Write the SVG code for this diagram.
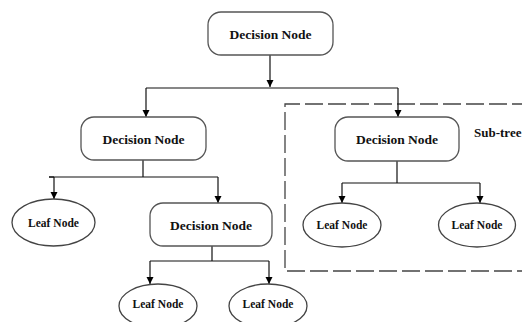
<svg xmlns="http://www.w3.org/2000/svg" width="522" height="322" viewBox="0 0 522 322">
<defs>
<marker id="ah" viewBox="0 0 10 10" refX="10" refY="5" markerWidth="7" markerHeight="9" markerUnits="userSpaceOnUse" orient="auto">
<path d="M0,0 L10,5 L0,10 z" fill="#000"/>
</marker>
<style>
.dn{fill:#fff;stroke:#555;stroke-width:1.3}
.lf{fill:#fff;stroke:#444;stroke-width:1.3}
.t{font-family:"Liberation Serif","Times New Roman",serif;font-weight:bold;fill:#111;text-anchor:middle}
.td{font-size:13.5px}
.tl{font-size:11.5px}
.c{fill:none;stroke:#111;stroke-width:1.2}
.a{marker-end:url(#ah)}
</style>
</defs>
<rect width="522" height="322" fill="#fff"/>
<g id="subtree">
<path d="M530,104 H285 V271 H530" fill="none" stroke="#444" stroke-width="1.3" stroke-dasharray="18 5"/>
<text class="t" x="474" y="137" font-size="13px" style="text-anchor:start">Sub-tree</text>
</g>
<g id="connectors">
<path class="c a" d="M270,55 V87"/>
<path class="c" d="M146,88 H398"/>
<path class="c a" d="M146,88 V117"/>
<path class="c a" d="M398,88 V117"/>
<path class="c" d="M143,160 V177 M49,177 H218"/>
<path class="c a" d="M54,177 V199"/>
<path class="c" d="M49,177 H54"/>
<path class="c a" d="M218,177 V203"/>
<path class="c" d="M212,246 V261 M150,261 H269"/>
<path class="c a" d="M150,261 V284"/>
<path class="c a" d="M269,261 V284"/>
<path class="c" d="M397,161 V183 M342,183 H480"/>
<path class="c a" d="M342,183 V203"/>
<path class="c a" d="M480,183 V203"/>
</g>
<g id="n1"><rect class="dn" x="208" y="12" width="125" height="43" rx="13"/><text class="t td" x="270.5" y="38.5">Decision Node</text></g>
<g id="n2"><rect class="dn" x="81" y="117" width="125" height="43" rx="13"/><text class="t td" x="143.5" y="143.5">Decision Node</text></g>
<g id="n3"><rect class="dn" x="335" y="117" width="124" height="44" rx="13"/><text class="t td" x="397" y="143.5">Decision Node</text></g>
<g id="n4"><rect class="dn" x="150" y="203" width="122" height="43" rx="13"/><text class="t td" x="211" y="229.5">Decision Node</text></g>
<g id="l1"><ellipse class="lf" cx="53.5" cy="222.5" rx="41.5" ry="23.5"/><text class="t tl" x="53.5" y="226.5">Leaf Node</text></g>
<g id="l2"><ellipse class="lf" cx="342" cy="225" rx="39" ry="22"/><text class="t tl" x="342" y="229">Leaf Node</text></g>
<g id="l3"><ellipse class="lf" cx="477" cy="225" rx="38.5" ry="22"/><text class="t tl" x="477" y="229">Leaf Node</text></g>
<g id="l4"><ellipse class="lf" cx="158" cy="306" rx="39" ry="22"/><text class="t tl" x="158" y="308">Leaf Node</text></g>
<g id="l5"><ellipse class="lf" cx="268" cy="306" rx="39" ry="22"/><text class="t tl" x="268" y="308">Leaf Node</text></g>
</svg>
